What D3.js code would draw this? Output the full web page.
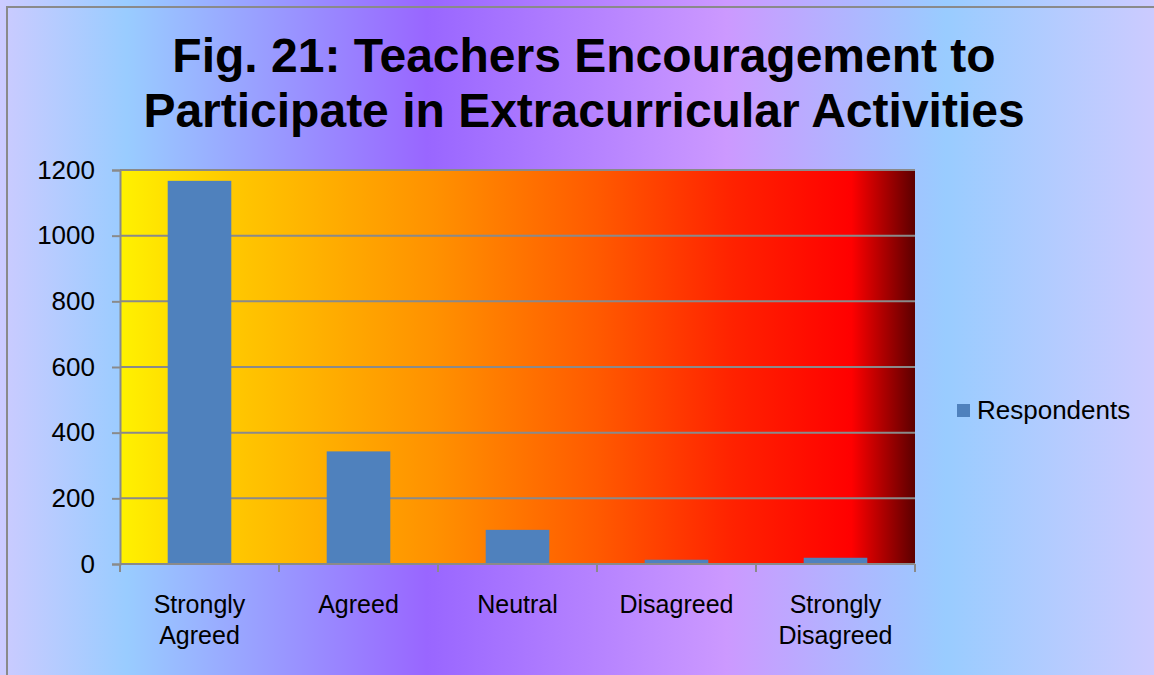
<!DOCTYPE html>
<html>
<head>
<meta charset="utf-8">
<script src="https://cdn.jsdelivr.net/npm/d3@7"></script>
<style>
  body { margin: 0; padding: 0; overflow: hidden; }
  svg { display: block; font-family: "Liberation Sans", Arial, sans-serif; }
</style>
</head>
<body>
<div id="chart"></div>
<script>
// chart data
var categories = [["Strongly", "Agreed"], ["Agreed"], ["Neutral"], ["Disagreed"], ["Strongly", "Disagreed"]];
var respondents = [1167, 343, 104, 13, 19];
var yTicks = [0, 200, 400, 600, 800, 1000, 1200];
var seriesName = "Respondents";
var titleLines = ["Fig. 21: Teachers Encouragement to", "Participate in Extracurricular Activities"];

var WIDTH = 1154, HEIGHT = 675;
var plot = { left: 120, top: 170, right: 915, bottom: 564 };

var svg = d3.select("#chart").append("svg")
    .attr("width", WIDTH)
    .attr("height", HEIGHT);

var defs = svg.append("defs");

// page background - purple / blue bands
var bg = defs.append("linearGradient").attr("id", "bg");
[[0, "#cccbff"], [0.11, "#99ccff"], [0.37, "#9966ff"], [0.63, "#cc99ff"], [0.82, "#99ccff"], [1, "#cccbff"]]
    .forEach(function (s) { bg.append("stop").attr("offset", s[0]).attr("stop-color", s[1]); });

// plot area - yellow to dark red
var pg = defs.append("linearGradient").attr("id", "plotbg");
[[0, "#fff200"], [0.14, "#ffc800"], [0.4, "#ff9000"], [0.6, "#ff5a00"], [0.77, "#ff2200"], [0.92, "#ff0000"], [1, "#5c0000"]]
    .forEach(function (s) { pg.append("stop").attr("offset", s[0]).attr("stop-color", s[1]); });

svg.append("rect").attr("width", WIDTH).attr("height", HEIGHT).attr("fill", "url(#bg)");

// outer frame (only top and left visible)
svg.append("path")
    .attr("d", "M7," + HEIGHT + "V7H" + WIDTH)
    .attr("fill", "none")
    .attr("stroke", "#8a8a8a")
    .attr("stroke-width", 2);

// title
svg.append("text")
    .attr("x", 584)
    .attr("text-anchor", "middle")
    .attr("font-weight", "bold")
    .attr("font-size", 48)
    .attr("fill", "#000")
    .selectAll("tspan")
    .data(titleLines)
    .enter().append("tspan")
    .attr("x", 584)
    .attr("y", function (d, i) { return 72 + i * 55; })
    .text(function (d) { return d; });

var x = d3.scaleBand()
    .domain(d3.range(categories.length))
    .range([plot.left, plot.right])
    .paddingInner(0.6)
    .paddingOuter(0.3);

var y = d3.scaleLinear()
    .domain([0, 1200])
    .range([plot.bottom, plot.top]);

svg.append("rect")
    .attr("x", plot.left).attr("y", plot.top)
    .attr("width", plot.right - plot.left)
    .attr("height", plot.bottom - plot.top)
    .attr("fill", "url(#plotbg)");

// gridlines
svg.append("g").selectAll("line")
    .data(yTicks.slice(1))
    .enter().append("line")
    .attr("x1", plot.left).attr("x2", plot.right)
    .attr("y1", function (d) { return y(d); })
    .attr("y2", function (d) { return y(d); })
    .attr("stroke", "#8a8a8a")
    .attr("stroke-width", 2);

// bars
svg.append("g").selectAll("rect")
    .data(respondents)
    .enter().append("rect")
    .attr("x", function (d, i) { return x(i); })
    .attr("y", function (d) { return y(d); })
    .attr("width", x.bandwidth())
    .attr("height", function (d) { return y(0) - y(d); })
    .attr("fill", "#4f81bd");

// y axis
var yAxis = svg.append("g")
    .attr("transform", "translate(" + plot.left + ",0)")
    .call(d3.axisLeft(y).tickValues(yTicks).tickFormat(d3.format("d")).tickSize(8).tickPadding(17));
yAxis.select(".domain").attr("stroke", "#8a8a8a").attr("stroke-width", 2);
yAxis.selectAll(".tick line").attr("stroke", "#8a8a8a").attr("stroke-width", 2);
yAxis.selectAll(".tick text")
    .attr("font-size", 26)
    .attr("font-family", "Liberation Sans, Arial, sans-serif")
    .attr("fill", "#000");

// x axis: ticks at band boundaries
var bounds = d3.range(categories.length + 1).map(function (i) { return plot.left + i * (plot.right - plot.left) / categories.length; });
svg.append("line")
    .attr("x1", plot.left).attr("x2", plot.right)
    .attr("y1", plot.bottom).attr("y2", plot.bottom)
    .attr("stroke", "#8a8a8a").attr("stroke-width", 2);
svg.append("g").selectAll("line")
    .data(bounds)
    .enter().append("line")
    .attr("x1", function (d) { return d; }).attr("x2", function (d) { return d; })
    .attr("y1", plot.bottom).attr("y2", plot.bottom + 8)
    .attr("stroke", "#8a8a8a").attr("stroke-width", 2);

svg.append("g").selectAll("text")
    .data(categories)
    .enter().append("text")
    .attr("text-anchor", "middle")
    .attr("font-size", 25)
    .attr("fill", "#000")
    .each(function (d, i) {
        var cx = x(i) + x.bandwidth() / 2;
        d3.select(this).selectAll("tspan")
            .data(d)
            .enter().append("tspan")
            .attr("x", cx)
            .attr("y", function (t, j) { return 613 + j * 31; })
            .text(function (t) { return t; });
    });

// legend
svg.append("rect")
    .attr("x", 957).attr("y", 404)
    .attr("width", 13).attr("height", 13)
    .attr("fill", "#4f81bd");
svg.append("text")
    .attr("x", 977).attr("y", 419)
    .attr("font-size", 26)
    .attr("fill", "#000")
    .text(seriesName);
</script>
</body>
</html>
